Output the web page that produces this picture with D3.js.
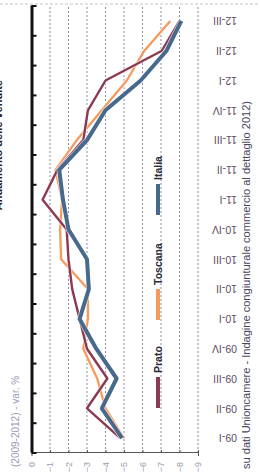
<!DOCTYPE html>
<html><head><meta charset="utf-8">
<script src="https://cdn.jsdelivr.net/npm/d3@7"></script>
<style>html,body{margin:0;padding:0;background:#fff;overflow:hidden}</style>
</head><body>
<svg id="c" width="260" height="476"></svg>
<script>
const categories = ["09-I","09-II","09-III","09-IV","10-I","10-II","10-III","10-IV","11-I","11-II","11-III","11-IV","12-I","12-II","12-III"];
const prato   = [-4.8,-3.0,-4.1,-3.0,-2.6,-2.2,-2.0,-1.9,-0.6,-1.4,-2.8,-3.05,-4.0,-7.05,-8.0];
const toscana = [-5.0,-4.0,-3.55,-2.8,-3.05,-3.05,-1.6,-1.55,-1.65,-1.3,-2.45,-3.8,-5.15,-6.1,-7.5];
const italia  = [-4.9,-3.8,-4.6,-3.5,-2.6,-3.1,-3.0,-2.0,-1.7,-1.5,-3.0,-4.0,-5.9,-7.3,-8.1];
const valueTicks = [0,-1,-2,-3,-4,-5,-6,-7,-8,-9];
const seriesNames = ["Prato","Toscana","Italia"];
const seriesColors = ["#8b3a52","#f59a5c","#47698c"];

const svg = d3.select("#c");
// chart drawn in its own (landscape) frame, then turned a quarter turn
const g = svg.append("g").attr("transform","translate(0,476) rotate(-90)");

const x = d3.scaleBand().domain(categories).range([23,470]).padding(0);
const y = d3.scaleLinear().domain([-9,0]).range([198,31.5]);

// faint frame line
g.append("line").attr("x1",472).attr("x2",472).attr("y1",0).attr("y2",260)
  .attr("stroke","#c8c0d0").attr("stroke-dasharray","3,2").attr("stroke-width",1);

// gridlines
g.append("g").selectAll("line").data(valueTicks.filter(d=>d!==0)).join("line")
  .attr("x1",23).attr("x2",470).attr("y1",d=>y(d)).attr("y2",d=>y(d))
  .attr("stroke","#8f88a0").attr("stroke-width",1).attr("stroke-dasharray","2,2");

// value axis
const ya = g.append("g").attr("transform","translate(23,0)")
  .call(d3.axisLeft(y).tickValues(valueTicks).tickSize(3).tickFormat(d=>d===0?"0":d3.format("d")(d)));
ya.select(".domain").attr("stroke","#555");
ya.selectAll(".tick line").attr("stroke","#555").attr("x2",3);
ya.selectAll(".tick text").attr("x",-9).attr("fill","#9a9ab0").attr("font-size","9px").attr("font-family","Liberation Sans, Arial, sans-serif");

// category axis (at zero, thick)
const xa = g.append("g").attr("transform",`translate(0,${y(0)})`)
  .call(d3.axisTop(x).tickSize(0).tickFormat(""));
xa.select(".domain").attr("stroke","#111").attr("stroke-width",3);
g.append("g").selectAll("line").data(d3.range(categories.length+1)).join("line")
  .attr("x1",i=>23+i*x.bandwidth()).attr("x2",i=>23+i*x.bandwidth())
  .attr("y1",y(0)).attr("y2",y(0)+5).attr("stroke","#111").attr("stroke-width",2);

// category labels
g.append("g").selectAll("text").data(categories).join("text")
  .attr("transform",d=>`translate(${x(d)+x.bandwidth()/2},237) rotate(-90)`)
  .attr("dy","0.35em").attr("text-anchor","start")
  .attr("font-size","10.5px").attr("font-family","Liberation Sans, Arial, sans-serif")
  .attr("fill","#5e4b63").text(d=>d);

// series
const line = d3.line().x((d,i)=>x(categories[i])+x.bandwidth()/2).y(d=>y(d));
const data = [toscana, prato, italia];
const cols = ["#f59a5c","#8b3a52","#47698c"];
const widths = [2.3,2.4,4];
data.forEach((s,k)=>{
  g.append("path").datum(s).attr("d",line).attr("fill","none")
   .attr("stroke","#fff").attr("stroke-width",widths[k]+1.5).attr("stroke-linejoin","round").attr("opacity",0.7);
  g.append("path").datum(s).attr("d",line).attr("fill","none")
   .attr("stroke",cols[k]).attr("stroke-width",widths[k]).attr("stroke-linejoin","round");
});

// legend
const legX = [68,156,261];
const lg = g.append("g");
seriesNames.forEach((n,i)=>{
  lg.append("line").attr("x1",legX[i]).attr("x2",legX[i]+31).attr("y1",158).attr("y2",158)
    .attr("stroke",seriesColors[i]).attr("stroke-width",4);
  lg.append("text").attr("x",legX[i]+35).attr("y",158).attr("dy","0.35em")
    .attr("font-size","10.5px").attr("font-weight","bold").attr("font-family","Liberation Sans, Arial, sans-serif")
    .attr("fill","#2b2b3b").text(n);
});

// title & subtitle (title mostly cut off at the edge, as in the reference)
g.append("text").attr("x",396).attr("y",2).attr("text-anchor","end")
  .attr("font-size","11px").attr("font-weight","bold").attr("font-family","Liberation Sans, Arial, sans-serif")
  .attr("fill","#222").text("Andamento delle vendite");
g.append("text").attr("x",9).attr("y",19).attr("text-anchor","start")
  .attr("font-size","10px").attr("font-family","Liberation Sans, Arial, sans-serif")
  .attr("fill","#9a9ab8").text("(2009-2012) - var. %");

// source
g.append("text").attr("x",7).attr("y",250).attr("text-anchor","start")
  .attr("textLength",368).attr("lengthAdjust","spacingAndGlyphs")
  .attr("font-size","10px").attr("font-family","Liberation Sans, Arial, sans-serif")
  .attr("fill","#4c4560").text("su dati Unioncamere - Indagine congiunturale commercio al dettaglio 2012)");
</script>
</body></html>
